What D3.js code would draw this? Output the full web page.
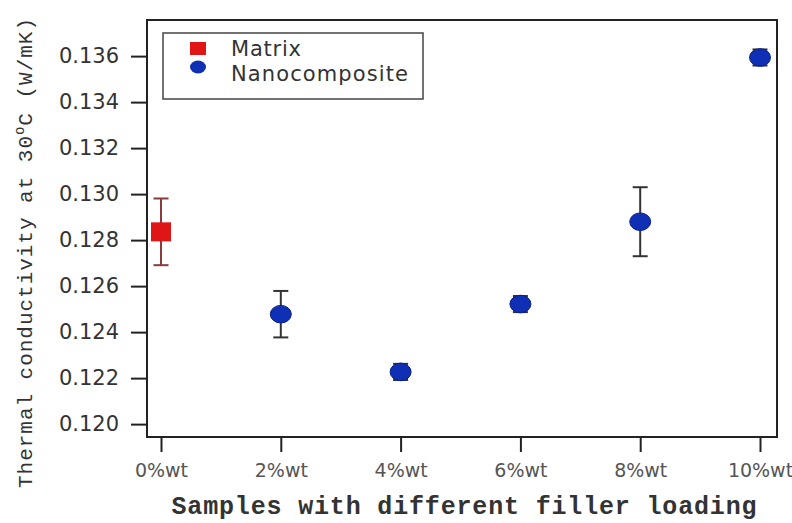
<!DOCTYPE html>
<html>
<head>
<meta charset="utf-8">
<script src="https://cdn.jsdelivr.net/npm/d3@7"></script>
<style>
  body { margin: 0; background: #fff; }
  .tick text { font-family: "DejaVu Sans", sans-serif; }
</style>
</head>
<body>
<script>
// values
var categories = ["0%wt", "2%wt", "4%wt", "6%wt", "8%wt", "10%wt"];
var yTicks = [0.120, 0.122, 0.124, 0.126, 0.128, 0.130, 0.132, 0.134, 0.136];

var matrixCat = ["0%wt"];
var matrixVal = [0.12836];
var matrixErr = [0.00145];

var nanoCat = ["2%wt", "4%wt", "6%wt", "8%wt", "10%wt"];
var nanoVal = [0.12478, 0.12227, 0.12522, 0.12880, 0.13594];
var nanoErr = [0.00101, 0.00035, 0.00035, 0.00150, 0.00035];

d3.select("body").append("svg").attr("width", 792).attr("height", 523);

var svg = d3.select("svg"),
    margin = {top: 20, right: 15, bottom: 86, left: 147},
    width = +svg.attr("width") - margin.left - margin.right,
    height = +svg.attr("height") - margin.top - margin.bottom,
    g = svg.append("g").attr("transform", "translate(" + margin.left + "," + margin.top + ")");

var x = d3.scalePoint().domain(categories).range([14, 613]);
var y = d3.scaleLinear().domain([0.11944, 0.13757]).range([height, 0]);

// axes
var yAxis = g.append("g")
    .call(d3.axisLeft(y).tickValues(yTicks).tickFormat(d3.format(".3f")).tickSize(16).tickPadding(12));
yAxis.select(".domain").remove();
yAxis.selectAll("line").attr("stroke", "#222").attr("stroke-width", 2);
yAxis.selectAll("text").attr("font-size", 21).attr("fill", "#333");

var xAxis = g.append("g")
    .attr("transform", "translate(0," + height + ")")
    .call(d3.axisBottom(x).tickSize(15).tickPadding(12));
xAxis.select(".domain").remove();
xAxis.selectAll("line").attr("stroke", "#222").attr("stroke-width", 2);
xAxis.selectAll("text").attr("font-size", 19).attr("fill", "#555");

// frame
g.append("rect")
    .attr("width", width)
    .attr("height", height)
    .attr("fill", "none")
    .attr("stroke", "#222")
    .attr("stroke-width", 2);

// error bars
function errorBars(cats, vals, errs, color) {
  var eb = g.append("g").attr("stroke", color).attr("stroke-width", 2);
  cats.forEach(function(c, i) {
    var cx = x(c), hi = y(vals[i] + errs[i]), lo = y(vals[i] - errs[i]);
    eb.append("line").attr("x1", cx).attr("x2", cx).attr("y1", hi).attr("y2", lo);
    eb.append("line").attr("x1", cx - 7.5).attr("x2", cx + 7.5).attr("y1", hi).attr("y2", hi);
    eb.append("line").attr("x1", cx - 7.5).attr("x2", cx + 7.5).attr("y1", lo).attr("y2", lo);
  });
}
errorBars(matrixCat, matrixVal, matrixErr, "#8a3b3b");
errorBars(nanoCat, nanoVal, nanoErr, "#333");

// markers
g.selectAll(".matrix")
    .data(matrixVal)
  .enter().append("rect")
    .attr("class", "matrix")
    .attr("x", function(d, i) { return x(matrixCat[i]) - 10; })
    .attr("y", function(d) { return y(d) - 9.5; })
    .attr("width", 20)
    .attr("height", 19)
    .attr("fill", "#e01515");

g.selectAll(".nano")
    .data(nanoVal)
  .enter().append("ellipse")
    .attr("class", "nano")
    .attr("cx", function(d, i) { return x(nanoCat[i]); })
    .attr("cy", function(d) { return y(d); })
    .attr("rx", 10.5)
    .attr("ry", 8.8)
    .attr("fill", "#0f2fb5")
    .attr("stroke", "#0a2088")
    .attr("stroke-width", 1);

// legend
var legend = g.append("g").attr("transform", "translate(16,13)");
legend.append("rect")
    .attr("width", 260)
    .attr("height", 66)
    .attr("fill", "#fff")
    .attr("stroke", "#444")
    .attr("stroke-width", 1.5);
legend.append("rect")
    .attr("x", 27).attr("y", 9).attr("width", 16).attr("height", 13)
    .attr("fill", "#e01515");
legend.append("ellipse")
    .attr("cx", 35).attr("cy", 34).attr("rx", 8).attr("ry", 6.5)
    .attr("fill", "#0f2fb5");
legend.append("text")
    .attr("x", 68).attr("y", 23)
    .attr("font-family", "DejaVu Sans, sans-serif")
    .attr("font-size", 21)
    .attr("textLength", 70)
    .attr("fill", "#333")
    .text("Matrix");
legend.append("text")
    .attr("x", 68).attr("y", 48)
    .attr("font-family", "DejaVu Sans, sans-serif")
    .attr("font-size", 21)
    .attr("textLength", 177)
    .attr("fill", "#333")
    .text("Nanocomposite");

// axis titles
svg.append("text")
    .attr("x", 464)
    .attr("y", 514)
    .attr("text-anchor", "middle")
    .attr("font-family", "Liberation Mono, Courier New, monospace")
    .attr("font-weight", "bold")
    .attr("font-size", 25)
    .attr("textLength", 585)
    .attr("fill", "#333")
    .text("Samples with different filler loading");

var yt = svg.append("text")
    .attr("transform", "translate(32,253) rotate(-90)")
    .attr("text-anchor", "middle")
    .attr("font-family", "Liberation Mono, Courier New, monospace")
    .attr("font-size", 21)
    .attr("textLength", 470)
    .attr("fill", "#333");
yt.append("tspan").text("Thermal conductivity at 30");
yt.append("tspan").attr("font-size", 14).attr("dy", -8).text("o");
yt.append("tspan").attr("dy", 8).text("C  (W/mK)");
</script>
</body>
</html>
